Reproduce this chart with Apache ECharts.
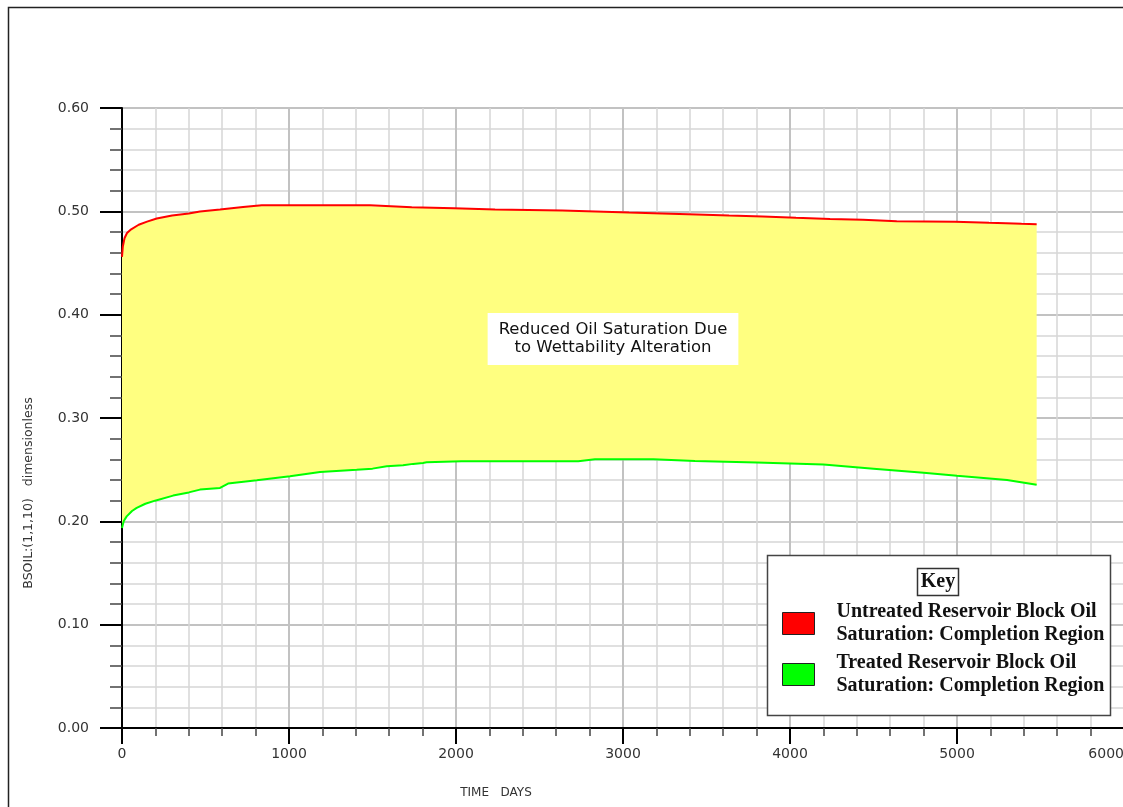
<!DOCTYPE html>
<html>
<head>
<meta charset="utf-8">
<script src="https://cdn.jsdelivr.net/npm/echarts@6/dist/echarts.min.js"></script>
<style>html,body{margin:0;padding:0;background:#fff;}#chart{width:1123px;height:807px;}</style>
</head>
<body>
<div id="chart"></div>
<script>
// Untreated (red) curve: days and oil saturation
const untreatedDays = [0, 5, 15, 30, 50, 100, 150, 208, 300, 400, 467, 587, 725, 837, 1000, 1200, 1485, 1490, 1735, 1988, 2234, 2635, 2836, 3036, 3234, 3441, 3635, 3836, 4036, 4240, 4437, 4639, 4988, 5192, 5293, 5387, 5477];
const untreatedSat  = [0.456, 0.466, 0.474, 0.479, 0.482, 0.487, 0.490, 0.493, 0.496, 0.498, 0.4998, 0.5017, 0.5043, 0.5060, 0.5060, 0.5060, 0.5059, 0.5049, 0.5040, 0.5030, 0.5017, 0.5008, 0.4998, 0.4988, 0.4979, 0.4969, 0.4959, 0.4950, 0.4937, 0.4927, 0.4918, 0.4904, 0.4898, 0.4889, 0.4885, 0.4879, 0.4875];
// Treated (green) curve
const treatedDays = [0, 10, 28, 60, 88, 140, 198, 306, 400, 467, 587, 635, 807, 1006, 1186, 1405, 1500, 1585, 1683, 1743, 1802, 1824, 2034, 2732, 2832, 3182, 3431, 3800, 4000, 4200, 4500, 4800, 5000, 5300, 5477];
const treatedSat  = [0.1936, 0.200, 0.2048, 0.210, 0.2130, 0.217, 0.2200, 0.2249, 0.228, 0.2307, 0.2323, 0.2365, 0.2397, 0.2436, 0.2478, 0.2500, 0.2510, 0.2532, 0.2542, 0.2556, 0.2565, 0.2571, 0.2581, 0.2581, 0.2600, 0.2600, 0.2585, 0.2570, 0.2560, 0.2550, 0.2510, 0.2470, 0.2440, 0.2400, 0.2355];

const seriesNames = ['Untreated Reservoir Block Oil Saturation: Completion Region', 'Treated Reservoir Block Oil Saturation: Completion Region'];
const xAxisTitle = 'TIME   DAYS';
const yAxisTitle = 'BSOIL:(1,1,10)   dimensionless';
const annotationText = 'Reduced Oil Saturation Due\nto Wettability Alteration';
const keyTitle = 'Key';

const zip = (xs, ys) => xs.map((x, i) => [x, ys[i]]);

const chart = echarts.init(document.getElementById('chart'), null, {renderer: 'canvas'});

const minorGrid = {show: true, lineStyle: {color: '#d6d6d6', width: 1.5}};
const majorGrid = {show: true, lineStyle: {color: '#c2c2c2', width: 2}};
const labelFont = {fontFamily: 'DejaVu Sans', fontSize: 14, color: '#333'};

chart.setOption({
  animation: false,
  backgroundColor: '#fff',
  grid: {left: 122, top: 108, right: -1, bottom: 79, containLabel: false, outerBoundsMode: 'none'},
  xAxis: {
    type: 'value', min: 0, max: 6000, interval: 1000,
    axisLine: {show: true, onZero: false, lineStyle: {color: '#000', width: 2}},
    axisTick: {show: true, length: 16, lineStyle: {color: '#000', width: 2}},
    minorTick: {show: true, splitNumber: 5, length: 8, lineStyle: {color: '#444', width: 1.5}},
    splitLine: majorGrid,
    minorSplitLine: minorGrid,
    axisLabel: Object.assign({margin: 19, alignMaxLabel: 'right', formatter: v => String(v)}, labelFont)
  },
  yAxis: {
    type: 'value', min: 0, max: 0.6, interval: 0.1,
    axisLine: {show: true, lineStyle: {color: '#000', width: 2}},
    axisTick: {show: true, length: 22, lineStyle: {color: '#000', width: 2}},
    minorTick: {show: true, splitNumber: 5, length: 12, lineStyle: {color: '#444', width: 1.5}},
    splitLine: majorGrid,
    minorSplitLine: minorGrid,
    axisLabel: Object.assign({margin: 33, formatter: v => v.toFixed(2)}, labelFont)
  },
  legend: {
    orient: 'vertical', left: 782, top: 598, padding: 0, itemGap: 0,
    itemWidth: 32, itemHeight: 22, icon: 'rect', z: 110,
    itemStyle: {borderColor: '#222', borderWidth: 1},
    data: seriesNames,
    formatter: name => name.replace(' Saturation', '\nSaturation'),
    textStyle: {fontFamily: 'Liberation Serif', fontWeight: 'bold', fontSize: 20, lineHeight: 23, color: '#111', padding: [5, 0, 0, 17]}
  },
  graphic: [
    {type: 'rect', silent: true, z: 0, shape: {x: 8.5, y: 7.5, width: 1400, height: 1000}, style: {fill: 'none', stroke: '#222', lineWidth: 1.5}},
    {type: 'text', silent: true, x: 496, y: 793, style: {text: xAxisTitle, fontFamily: 'DejaVu Sans', fontSize: 12, fill: '#333', align: 'center', verticalAlign: 'middle'}},
    {type: 'text', silent: true, x: 29, y: 493, rotation: Math.PI / 2, style: {text: yAxisTitle, fontFamily: 'DejaVu Sans', fontSize: 12.5, fill: '#333', align: 'center', verticalAlign: 'middle'}},
    {type: 'text', silent: true, z: 100, x: 613, y: 339, style: {text: annotationText, fontFamily: 'DejaVu Sans', fontSize: 16.5, lineHeight: 18, fill: '#111', align: 'center', verticalAlign: 'middle', backgroundColor: '#fff', padding: [8, 11, 8, 11]}},
    {type: 'rect', silent: true, z: 100, shape: {x: 767.5, y: 555.5, width: 343, height: 160}, style: {fill: '#fff', stroke: '#444', lineWidth: 1.5}},
    {type: 'rect', silent: true, z: 101, shape: {x: 917.5, y: 568.5, width: 41, height: 27}, style: {fill: '#fff', stroke: '#333', lineWidth: 1.5}},
    {type: 'text', silent: true, z: 102, x: 938, y: 582, style: {text: keyTitle, fontFamily: 'Liberation Serif', fontWeight: 'bold', fontSize: 20, fill: '#111', align: 'center', verticalAlign: 'middle'}}
  ],
  series: [
    {
      type: 'custom', name: 'band', z: 1, silent: true,
      data: [[0, 0]],
      renderItem: function (params, api) {
        const pts = [];
        for (let i = 0; i < untreatedDays.length; i++) pts.push(api.coord([untreatedDays[i], untreatedSat[i]]));
        for (let i = treatedDays.length - 1; i >= 0; i--) pts.push(api.coord([treatedDays[i], treatedSat[i]]));
        return {type: 'polygon', shape: {points: pts}, style: {fill: '#ffff80', stroke: null}};
      }
    },
    {
      type: 'line', name: seriesNames[0], z: 3, showSymbol: false, symbol: 'none',
      data: zip(untreatedDays, untreatedSat),
      itemStyle: {color: '#ff0000'}, lineStyle: {color: '#ff0000', width: 2}
    },
    {
      type: 'line', name: seriesNames[1], z: 3, showSymbol: false, symbol: 'none',
      data: zip(treatedDays, treatedSat),
      itemStyle: {color: '#00ff00'}, lineStyle: {color: '#00ff00', width: 2}
    }
  ]
});
</script>
</body>
</html>
